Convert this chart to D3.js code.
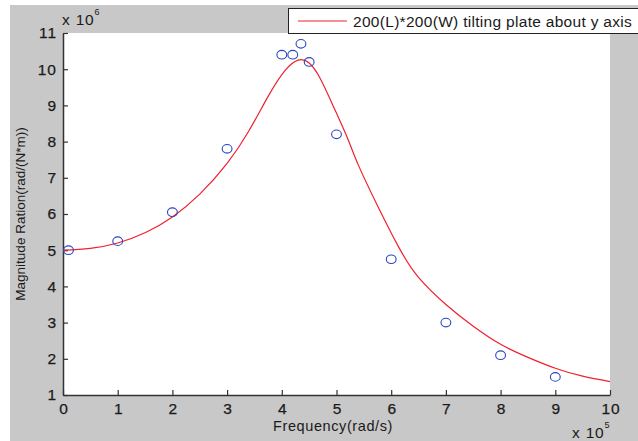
<!DOCTYPE html>
<html>
<head>
<meta charset="utf-8">
<script src="https://cdn.jsdelivr.net/npm/d3@7"></script>
<style>
  body { margin: 0; background: #fff; }
  svg { display: block; font-family: "Liberation Sans", Arial, sans-serif; }
</style>
</head>
<body>
<div id="chart"></div>
<script>
// measured points (x in 1e5 rad/s, y in 1e6)
var measX = [0.1, 1, 2, 3, 4, 4.2, 4.35, 4.5, 5, 6, 7, 8, 9];
var measY = [5.0, 5.25, 6.05, 7.8, 10.4, 10.4, 10.7, 10.2, 8.2, 4.75, 3.0, 2.1, 1.5];

// fitted curve
var fitX = [0, 0.5, 1, 1.5, 2, 2.5, 3, 3.4, 3.75, 4.05, 4.3, 4.5, 4.7, 4.95, 5.2, 5.4, 5.75, 6.15, 6.5, 7, 7.5, 8, 8.5, 9, 9.5, 10];
var fitY = [5.0, 5.05, 5.2, 5.48, 5.92, 6.55, 7.4, 8.3, 9.25, 9.95, 10.25, 10.17, 9.75, 8.95, 8.1, 7.35, 6.23, 5.05, 4.25, 3.5, 2.9, 2.4, 2.04, 1.74, 1.52, 1.37];

var xTicks = [0, 1, 2, 3, 4, 5, 6, 7, 8, 9, 10];
var yTicks = [1, 2, 3, 4, 5, 6, 7, 8, 9, 10, 11];
var legendLabel = "200(L)*200(W) tilting plate about y axis";

var W = 638, H = 441;
var plot = { left: 63, top: 33, right: 610, bottom: 395 };

var svg = d3.select("#chart").append("svg")
    .attr("width", W)
    .attr("height", H);

// figure background
svg.append("rect")
    .attr("x", 10).attr("y", 5)
    .attr("width", W - 10).attr("height", H - 5)
    .attr("fill", "#c8c8c8");

svg.append("rect")
    .attr("x", plot.left).attr("y", plot.top)
    .attr("width", plot.right - plot.left).attr("height", plot.bottom - plot.top)
    .attr("fill", "#fff");

var x = d3.scaleLinear().domain([0, 10]).range([plot.left, plot.right]);
var y = d3.scaleLinear().domain([1, 11]).range([plot.bottom, plot.top]);

var xAxis = svg.append("g")
    .attr("transform", `translate(0,${plot.bottom})`)
    .call(d3.axisBottom(x).tickValues(xTicks).tickSize(-5).tickPadding(8).tickSizeOuter(0));

var yAxis = svg.append("g")
    .attr("transform", `translate(${plot.left},0)`)
    .call(d3.axisLeft(y).tickValues(yTicks).tickSize(-5).tickPadding(6).tickSizeOuter(0));

[xAxis, yAxis].forEach(function (g) {
    g.select(".domain").attr("stroke", "#333").attr("stroke-width", 1.5);
    g.selectAll(".tick line").attr("stroke", "#333").attr("stroke-width", 1.2);
    g.selectAll(".tick text")
        .attr("fill", "#1a1a1a")
        .attr("stroke", "#1a1a1a")
        .attr("stroke-width", 0.25)
        .style("font-size", "15.5px")
        .style("letter-spacing", "1px")
        .style("font-family", "Liberation Sans, Arial, sans-serif");
});
xAxis.selectAll(".tick text").attr("dy", "0.71em").attr("dx", "0.5px");

// exponent labels
var exp6 = svg.append("text").attr("x", 62).attr("y", 25)
    .attr("fill", "#1a1a1a").style("font-size", "15.5px").style("letter-spacing", "0.8px");
exp6.append("tspan").text("x 10");
exp6.append("tspan").attr("dy", -10).style("font-size", "9px").text("6");

var exp5 = svg.append("text").attr("x", 572).attr("y", 438)
    .attr("fill", "#1a1a1a").style("font-size", "15.5px").style("letter-spacing", "0.8px");
exp5.append("tspan").text("x 10");
exp5.append("tspan").attr("dy", -10).style("font-size", "9px").text("5");

// axis titles
svg.append("text")
    .attr("x", 333)
    .attr("y", 431)
    .attr("text-anchor", "middle")
    .attr("fill", "#1a1a1a")
    .style("font-size", "14.5px")
    .style("letter-spacing", "0.6px")
    .text("Frequency(rad/s)");

svg.append("text")
    .attr("transform", `translate(25,${(plot.top + plot.bottom) / 2}) rotate(-90)`)
    .attr("text-anchor", "middle")
    .attr("fill", "#1a1a1a")
    .style("font-size", "13.5px")
    .text("Magnitude Ration(rad/(N*m))");

// fitted curve
var fit = fitX.map(function (d, i) { return [d, fitY[i]]; });
var line = d3.line()
    .x(function (d) { return x(d[0]); })
    .y(function (d) { return y(d[1]); })
    .curve(d3.curveNatural);

svg.append("path")
    .datum(fit)
    .attr("d", line)
    .attr("fill", "none")
    .attr("stroke", "#f0202e")
    .attr("stroke-width", 1.2);

// measured circles
svg.selectAll("ellipse.meas")
    .data(measX.map(function (d, i) { return [d, measY[i]]; }))
    .enter()
    .append("ellipse")
    .attr("class", "meas")
    .attr("cx", function (d) { return x(d[0]); })
    .attr("cy", function (d) { return y(d[1]); })
    .attr("rx", 4.9)
    .attr("ry", 4.3)
    .attr("fill", "none")
    .attr("stroke", "#2846c0")
    .attr("stroke-width", 1.1);

// legend
var lg = svg.append("g");
lg.append("rect")
    .attr("x", 288.5).attr("y", 8.5)
    .attr("width", 360).attr("height", 25)
    .attr("fill", "#fff")
    .attr("stroke", "#222")
    .attr("stroke-width", 1);
lg.append("line")
    .attr("x1", 298).attr("x2", 347)
    .attr("y1", 21).attr("y2", 21)
    .attr("stroke", "#f0202e").attr("stroke-width", 1.2);
lg.append("text")
    .attr("x", 353).attr("y", 26.5)
    .attr("fill", "#1a1a1a")
    .style("font-size", "15.5px")
    .style("letter-spacing", "0.3px")
    .text(legendLabel);
</script>
</body>
</html>
